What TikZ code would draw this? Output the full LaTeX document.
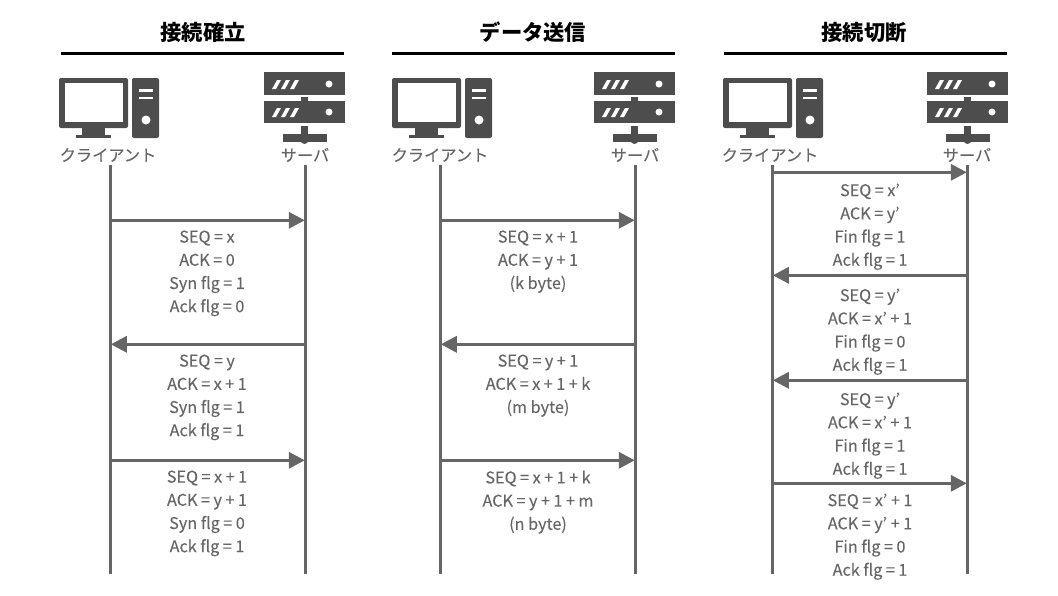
\documentclass[tikz,border=0pt]{standalone}
\usepackage{fontspec}
\setmainfont{Noto Sans CJK JP}
\newfontfamily\labelfont[FakeBold=0.12]{Noto Sans CJK JP}
\usetikzlibrary{arrows.meta}
\definecolor{icongray}{HTML}{4D4D4D}
\definecolor{linegray}{HTML}{666666}
\newcommand{\opsp}{\hspace{3.5pt}}
\tikzset{every picture/.style={line width=1pt},
  lifeline/.style={draw=linegray,line width=3.3pt},
  message/.style={draw=linegray,line width=3.3pt,-{Triangle[length=16pt,width=16pt]},shorten >=0.5pt,shorten <=1.5pt},
  headrule/.style={draw=black,line width=3pt},
  headtext/.style={font=\bfseries\fontsize{21.3}{25}\selectfont,text=black,inner sep=0pt},
  hosttext/.style={font=\labelfont\fontsize{16.2}{18}\selectfont,text=linegray,inner sep=0pt},
  packet/.style={font=\labelfont\fontsize{16.2}{23.2}\selectfont,text=linegray,align=center,inner sep=0pt,anchor=north},
  clienticon/.pic={
    %monitor
    \fill[icongray,rounded corners=2pt] (0,0) rectangle (69,50);
    \fill[white] (6,5) rectangle (64,44);
    \fill[icongray] (23,50) rectangle (46,57);
    \fill[icongray] (17,57) rectangle (52,60);
    %tower
    \fill[icongray,rounded corners=2pt] (73,0) rectangle (100,60);
    \fill[white] (80,11) rectangle (94,13.5);
    \fill[white] (80,18.5) rectangle (94,21);
    \fill[white] (87,42) circle (4.5);
  },
  servericon/.pic={
    %upper unit
    \fill[icongray] (0,0) rectangle (81,23);
    \fill[white] (8,17) -- (12,17) -- (17,8) -- (13,8) -- cycle;
    \fill[white] (17,17) -- (21,17) -- (26,8) -- (22,8) -- cycle;
    \fill[white] (26,17) -- (30,17) -- (35,8) -- (31,8) -- cycle;
    \fill[white] (65,12) circle (3.5);
    %lower unit
    \fill[icongray] (37,25) rectangle (44,29);
    \fill[icongray] (0,29) rectangle (81,51);
    \fill[white] (8,45) -- (12,45) -- (17,36) -- (13,36) -- cycle;
    \fill[white] (17,45) -- (21,45) -- (26,36) -- (22,36) -- cycle;
    \fill[white] (26,45) -- (30,45) -- (35,36) -- (31,36) -- cycle;
    \fill[white] (65,40) circle (3.5);
    %foot
    \fill[icongray] (37,54) rectangle (44,62);
    \fill[icongray] (19,62) rectangle (63,70);
    \fill[icongray] (40.5,68) circle (4);
  }}

\begin{document}
\begin{tikzpicture}[x=1pt,y=-1pt]
\useasboundingbox (0,0) rectangle (1058,595);

% Column 1
\node [headtext] (titleA) at (203,32) {接続確立};
\coordinate (ruleAl) at (61,53.5);
\coordinate (ruleAr) at (344,53.5);
\draw [headrule] (ruleAl) -- (ruleAr);
\pic at (59,78) {clienticon};
\pic at (264,72) {servericon};
\node [hosttext] (clientA) at (108,155) {クライアント};
\node [hosttext] (serverA) at (305,155) {サーバ};
\coordinate (clientAtop) at (110.3,165);
\coordinate (clientAend) at (110.3,574);
\coordinate (serverAtop) at (305.3,165);
\coordinate (serverAend) at (305.3,574);
\draw [lifeline] (clientAtop) -- (clientAend);
\draw [lifeline] (serverAtop) -- (serverAend);
\coordinate (a1c) at (110.3,220.3);
\coordinate (a1s) at (305.3,220.3);
\coordinate (a2c) at (110.3,344.3);
\coordinate (a2s) at (305.3,344.3);
\coordinate (a3c) at (110.3,460.3);
\coordinate (a3s) at (305.3,460.3);
\draw [message] (a1c) -- (a1s);
\draw [message] (a2s) -- (a2c);
\draw [message] (a3c) -- (a3s);
\node [packet] (pktA1) at (207,230) {SEQ\opsp=\opsp x\\ACK\opsp=\opsp 0\\Syn flg\opsp=\opsp 1\\Ack flg\opsp=\opsp 0};
\node [packet] (pktA2) at (207,354) {SEQ\opsp=\opsp y\\ACK\opsp=\opsp x\opsp+\opsp 1\\Syn flg\opsp=\opsp 1\\Ack flg\opsp=\opsp 1};
\node [packet] (pktA3) at (207,470) {SEQ\opsp=\opsp x\opsp+\opsp 1\\ACK\opsp=\opsp y\opsp+\opsp 1\\Syn flg\opsp=\opsp 0\\Ack flg\opsp=\opsp 1};

% Column 2
\node [headtext] (titleB) at (533,32) {データ送信};
\coordinate (ruleBl) at (392,53.5);
\coordinate (ruleBr) at (675,53.5);
\draw [headrule] (ruleBl) -- (ruleBr);
\pic at (392,78) {clienticon};
\pic at (594,72) {servericon};
\node [hosttext] (clientB) at (440,155) {クライアント};
\node [hosttext] (serverB) at (635,155) {サーバ};
\coordinate (clientBtop) at (440.3,165);
\coordinate (clientBend) at (440.3,574);
\coordinate (serverBtop) at (635.3,165);
\coordinate (serverBend) at (635.3,574);
\draw [lifeline] (clientBtop) -- (clientBend);
\draw [lifeline] (serverBtop) -- (serverBend);
\coordinate (b1c) at (440.3,220.3);
\coordinate (b1s) at (635.3,220.3);
\coordinate (b2c) at (440.3,344.3);
\coordinate (b2s) at (635.3,344.3);
\coordinate (b3c) at (440.3,460.3);
\coordinate (b3s) at (635.3,460.3);
\draw [message] (b1c) -- (b1s);
\draw [message] (b2s) -- (b2c);
\draw [message] (b3c) -- (b3s);
\node [packet] (pktB1) at (538,230) {SEQ\opsp=\opsp x\opsp+\opsp 1\\ACK\opsp=\opsp y\opsp+\opsp 1\\(k byte)};
\node [packet] (pktB2) at (538,354) {SEQ\opsp=\opsp y\opsp+\opsp 1\\ACK\opsp=\opsp x\opsp+\opsp 1\opsp+\opsp k\\(m byte)};
\node [packet] (pktB3) at (538,470) {SEQ\opsp=\opsp x\opsp+\opsp 1\opsp+\opsp k\\ACK\opsp=\opsp y\opsp+\opsp 1\opsp+\opsp m\\(n byte)};

% Column 3
\node [headtext] (titleC) at (864,32) {接続切断};
\coordinate (ruleCl) at (724,53.5);
\coordinate (ruleCr) at (1007,53.5);
\draw [headrule] (ruleCl) -- (ruleCr);
\pic at (723,78) {clienticon};
\pic at (927,72) {servericon};
\node [hosttext] (clientC) at (770,155) {クライアント};
\node [hosttext] (serverC) at (967,155) {サーバ};
\coordinate (clientCtop) at (772.3,165);
\coordinate (clientCend) at (772.3,574);
\coordinate (serverCtop) at (967.3,165);
\coordinate (serverCend) at (967.3,574);
\draw [lifeline] (clientCtop) -- (clientCend);
\draw [lifeline] (serverCtop) -- (serverCend);
\coordinate (c1c) at (772.3,172.3);
\coordinate (c1s) at (967.3,172.3);
\coordinate (c2c) at (772.3,275.3);
\coordinate (c2s) at (967.3,275.3);
\coordinate (c3c) at (772.3,380.3);
\coordinate (c3s) at (967.3,380.3);
\coordinate (c4c) at (772.3,483.3);
\coordinate (c4s) at (967.3,483.3);
\draw [message] (c1c) -- (c1s);
\draw [message] (c2s) -- (c2c);
\draw [message] (c3s) -- (c3c);
\draw [message] (c4c) -- (c4s);
\node [packet] (pktC1) at (870,183) {SEQ\opsp=\opsp x’\\ACK\opsp=\opsp y’\\Fin flg\opsp=\opsp 1\\Ack flg\opsp=\opsp 1};
\node [packet] (pktC2) at (870,288) {SEQ\opsp=\opsp y’\\ACK\opsp=\opsp x’\opsp+\opsp 1\\Fin flg\opsp=\opsp 0\\Ack flg\opsp=\opsp 1};
\node [packet] (pktC3) at (870,392) {SEQ\opsp=\opsp y’\\ACK\opsp=\opsp x’\opsp+\opsp 1\\Fin flg\opsp=\opsp 1\\Ack flg\opsp=\opsp 1};
\node [packet] (pktC4) at (870,493) {SEQ\opsp=\opsp x’\opsp+\opsp 1\\ACK\opsp=\opsp y’\opsp+\opsp 1\\Fin flg\opsp=\opsp 0\\Ack flg\opsp=\opsp 1};

\end{tikzpicture}
\end{document}
